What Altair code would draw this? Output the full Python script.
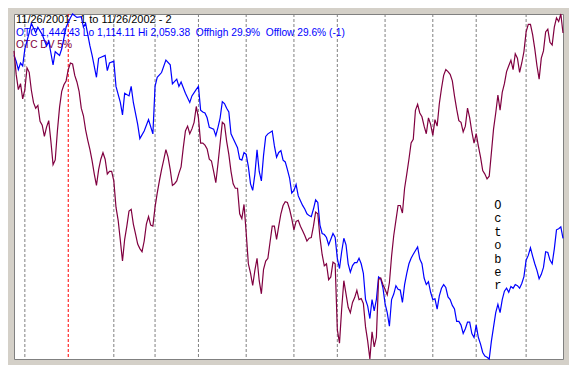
import altair as alt
import pandas as pd

# ---- data (trading-day index 0 = 11/26/2001, 253 = 11/26/2002) ----
otc_days = [0, 1, 2, 3, 4, 5, 7, 8, 10, 11, 13, 15, 16, 18, 19, 21, 22, 24, 26, 27,
            29, 31, 32, 33, 35, 36, 38, 39, 42, 43, 44, 46, 47, 49, 50, 51, 53, 54, 55, 57,
            58, 60, 62, 64, 65, 66, 68, 70, 72, 73, 75, 76, 77, 79, 81, 82, 84, 85, 86, 87,
            88, 89, 90, 92, 93, 94, 95, 96, 97, 98, 99, 100, 101, 103, 104, 105, 106, 107, 108, 109,
            110, 111, 112, 113, 114, 115, 116, 117, 119, 120, 121, 122, 123, 124, 125, 126, 127, 128, 129, 130,
            131, 132, 133, 134, 135, 136, 137, 138, 139, 140, 141, 142, 143, 144, 145, 146, 147, 148, 149, 150,
            151, 152, 153, 154, 155, 156, 157, 158, 159, 160, 161, 162, 163, 164, 165, 166, 167, 168, 169, 170,
            171, 172, 173, 174, 175, 176, 177, 178, 179, 180, 181, 182, 183, 184, 186, 187, 188, 189, 190, 191,
            192, 193, 194, 195, 196, 197, 198, 199, 200, 201, 202, 203, 204, 205, 206, 207, 208, 209, 210, 211,
            212, 213, 214, 215, 216, 217, 218, 219, 220, 221, 222, 223, 224, 225, 226, 227, 228, 229, 230, 231,
            232, 233, 234, 235, 236, 237, 238, 239, 240, 241, 242, 243, 244, 245, 246, 247, 248, 249, 250, 251,
            252, 253]
otc_close = [1946, 1930, 1907, 1925, 1917, 1964, 2008, 2034, 2008, 2023, 2003, 1972, 1985, 1920, 1956, 1946, 1964, 2023, 2049, 2059.38,
             2050, 2052, 2023, 2034, 1972, 1946, 1886, 1938, 1946, 1904, 1925, 1930, 1861, 1817, 1783, 1842, 1835, 1861, 1817, 1757,
             1718, 1739, 1770, 1731, 1861, 1886, 1899, 1933, 1920, 1868, 1881, 1861, 1873, 1842, 1817, 1835, 1853, 1861, 1796, 1791,
             1788, 1775, 1749, 1744, 1726, 1749, 1775, 1819, 1814, 1801, 1791, 1731, 1718, 1693, 1662, 1659, 1680, 1675, 1641, 1594,
             1576, 1620, 1687, 1628, 1602, 1672, 1724, 1731, 1739, 1698, 1667, 1680, 1685, 1659, 1654, 1633, 1610, 1569, 1576, 1592,
             1561, 1548, 1535, 1525, 1512, 1507, 1504, 1525, 1550, 1543, 1481, 1458, 1455, 1447, 1427, 1442, 1458, 1447, 1390, 1362,
             1408, 1445, 1427, 1375, 1352, 1370, 1378, 1378, 1390, 1375, 1349, 1277, 1259, 1225, 1277, 1246, 1277, 1339, 1334, 1310,
             1266, 1241, 1204, 1277, 1292, 1315, 1305, 1303, 1269, 1318, 1349, 1375, 1390, 1401, 1421, 1388, 1375, 1336, 1318, 1326,
             1297, 1277, 1279, 1251, 1287, 1308, 1318, 1310, 1284, 1277, 1261, 1251, 1217, 1217, 1207, 1184, 1197, 1215, 1215, 1184,
             1173, 1207, 1173, 1155, 1132, 1122, 1119, 1114.11, 1163, 1202, 1241, 1264, 1241, 1277, 1300, 1308, 1297, 1313, 1308, 1318,
             1315, 1308, 1321, 1340, 1385, 1398, 1419, 1396, 1375, 1357, 1334, 1346, 1365, 1408, 1406, 1385, 1375, 1416, 1468, 1471,
             1476, 1444.43]

# OTC DV 5% (relative level, 0 = period low, 100 = period high), one value per trading day
dv_level = [89.3, 82.5, 78.1, 79.8, 75.4, 78.1, 84.4, 83.1, 77.9, 74.3,
            72.7, 73.5, 68.9, 67.8, 64.5, 67.2, 69.1, 63.1, 56.3, 57.7,
            66.1, 73.0, 77.6, 79.5, 80.6, 83.9, 85.8, 85.5, 82.2, 80.3,
            77.6, 72.7, 70.5, 66.4, 63.4, 60.7, 57.4, 53.6, 50.3, 54.9,
            57.9, 59.8, 57.9, 53.6, 54.4, 54.4, 51.6, 44.0, 40.2, 34.4,
            28.4, 34.7, 38.5, 42.9, 43.4, 39.1, 36.3, 33.3, 32.0, 31.1,
            34.2, 39.1, 41.3, 38.8, 38.5, 44.0, 48.1, 51.6, 54.9, 57.7,
            60.7, 58.5, 54.9, 50.3, 50.8, 51.6, 53.8, 55.7, 61.2, 66.1,
            67.5, 65.3, 66.7, 68.6, 73.2, 69.9, 62.6, 62.6, 62.0, 60.9,
            57.9, 57.4, 54.4, 51.1, 56.6, 62.6, 68.6, 68.0, 63.1, 59.3,
            54.4, 50.8, 49.5, 49.5, 42.1, 40.7, 44.8, 36.6, 27.6, 24.9,
            21.3, 25.7, 29.2, 22.7, 18.9, 26.0, 28.4, 29.2, 33.9, 38.5,
            38.5, 34.7, 38.5, 42.1, 44.5, 45.6, 45.4, 43.4, 40.7, 37.4,
            39.9, 40.2, 38.5, 37.2, 35.8, 34.2, 35.0, 35.2, 38.5, 42.6,
            42.1, 35.2, 30.3, 27.0, 27.6, 23.0, 23.8, 28.1, 27.6, 8.5,
            4.6, 14.5, 22.7, 18.9, 15.0, 13.4, 16.4, 17.8, 19.9, 17.2,
            17.5, 16.1, 9.3, 5.2, 0.0, 7.9, 3.5, 6.3, 23.0, 23.5,
            21.6, 20.2, 18.6, 22.1, 29.8, 35.8, 40.2, 44.5, 44.5, 42.3,
            49.5, 53.6, 57.9, 62.6, 63.7, 72.1, 73.8, 71.3, 70.2, 67.5,
            65.3, 69.9, 68.0, 64.8, 69.4, 67.5, 74.0, 78.4, 82.2, 83.9,
            83.3, 82.5, 80.6, 76.2, 72.4, 69.1, 68.6, 65.8, 67.5, 72.7,
            69.9, 65.8, 62.6, 65.3, 61.7, 58.5, 54.6, 53.6, 52.2, 53.0,
            59.8, 66.7, 71.3, 76.5, 72.1, 77.3, 79.8, 83.3, 85.0, 86.6,
            83.9, 88.5, 87.2, 83.1, 85.8, 89.1, 94.8, 97.0, 97.0, 94.0,
            89.9, 85.0, 81.1, 87.2, 89.3, 94.8, 95.6, 91.8, 91.0, 96.2,
            98.9, 97.8, 100.0, 94.5]

# first trading day of each month (index) and whether it starts a new year
month_days = [5, 25, 46, 65, 85, 107, 129, 149, 171, 193, 213, 236]
month_kind = ["month", "year", "month", "month", "month", "month",
              "month", "month", "month", "month", "month", "month"]

header_1 = "11/26/2001 - 1 to 11/26/2002 - 2"
header_2 = ("OTC 1,444.43 Lo 1,114.11 Hi 2,059.38 \u00a0Offhigh 29.9% "
            "\u00a0Offlow 29.6% (-1)")
header_3 = "OTC DV 5%"
note_word = "October"
note_day = 223

BLUE = "#0000ff"
MAROON = "#800040"

otc_df = pd.DataFrame({"day": otc_days, "otc": otc_close})
dv_df = pd.DataFrame({"day": list(range(len(dv_level))), "dv": dv_level})
rule_df = pd.DataFrame({"day": month_days, "kind": month_kind})

xenc = alt.X("day:Q", scale=alt.Scale(domain=[0, 253], nice=False, zero=False), axis=None)

rules = alt.Chart(rule_df).mark_rule(strokeDash=[3, 2], strokeWidth=1).encode(
    x=xenc,
    color=alt.Color("kind:N", scale=alt.Scale(domain=["month", "year"],
                                              range=["#808080", "#ff0000"]), legend=None),
)

def header(txt, y, col, size):
    return alt.Chart(pd.DataFrame({"t": [txt]})).mark_text(
        align="left", baseline="alphabetic", font="Liberation Sans",
        fontSize=size, color=col,
    ).encode(x=alt.value(2), y=alt.value(y), text="t:N")

h1 = header(header_1, 9, "black", 11)
h2 = header(header_2, 21.5, BLUE, 10.2)
h3 = header(header_3, 34, MAROON, 10.2)

october = alt.Chart(pd.DataFrame({"t": ["\n".join(note_word)], "day": [note_day]})).mark_text(
    align="center", baseline="alphabetic", font="Liberation Mono", fontSize=12,
    lineBreak="\n", lineHeight=13.4, color="black",
).encode(x=xenc, y=alt.value(195), text="t:N")

otc_line = alt.Chart(otc_df).mark_line(color=BLUE, strokeWidth=1.2).encode(
    x=xenc,
    y=alt.Y("otc:Q", scale=alt.Scale(domain=[1114.11, 2059.38], nice=False, zero=False), axis=None),
)
dv_line = alt.Chart(dv_df).mark_line(color=MAROON, strokeWidth=1.2).encode(
    x=xenc,
    y=alt.Y("dv:Q", scale=alt.Scale(domain=[0, 100], nice=False, zero=False), axis=None),
)

chart = alt.layer(rules, h1, h2, h3, october, otc_line, dv_line).resolve_scale(
    y="independent"
).properties(
    width=561, height=357,
    autosize=alt.AutoSizeParams(type="fit", contains="padding"),
    padding=3,
    background="#d4d0c8",
).configure_view(stroke="#808080", strokeWidth=1, fill="white")

chart.save("out.html", embed_options={"renderer": "svg", "actions": False})
